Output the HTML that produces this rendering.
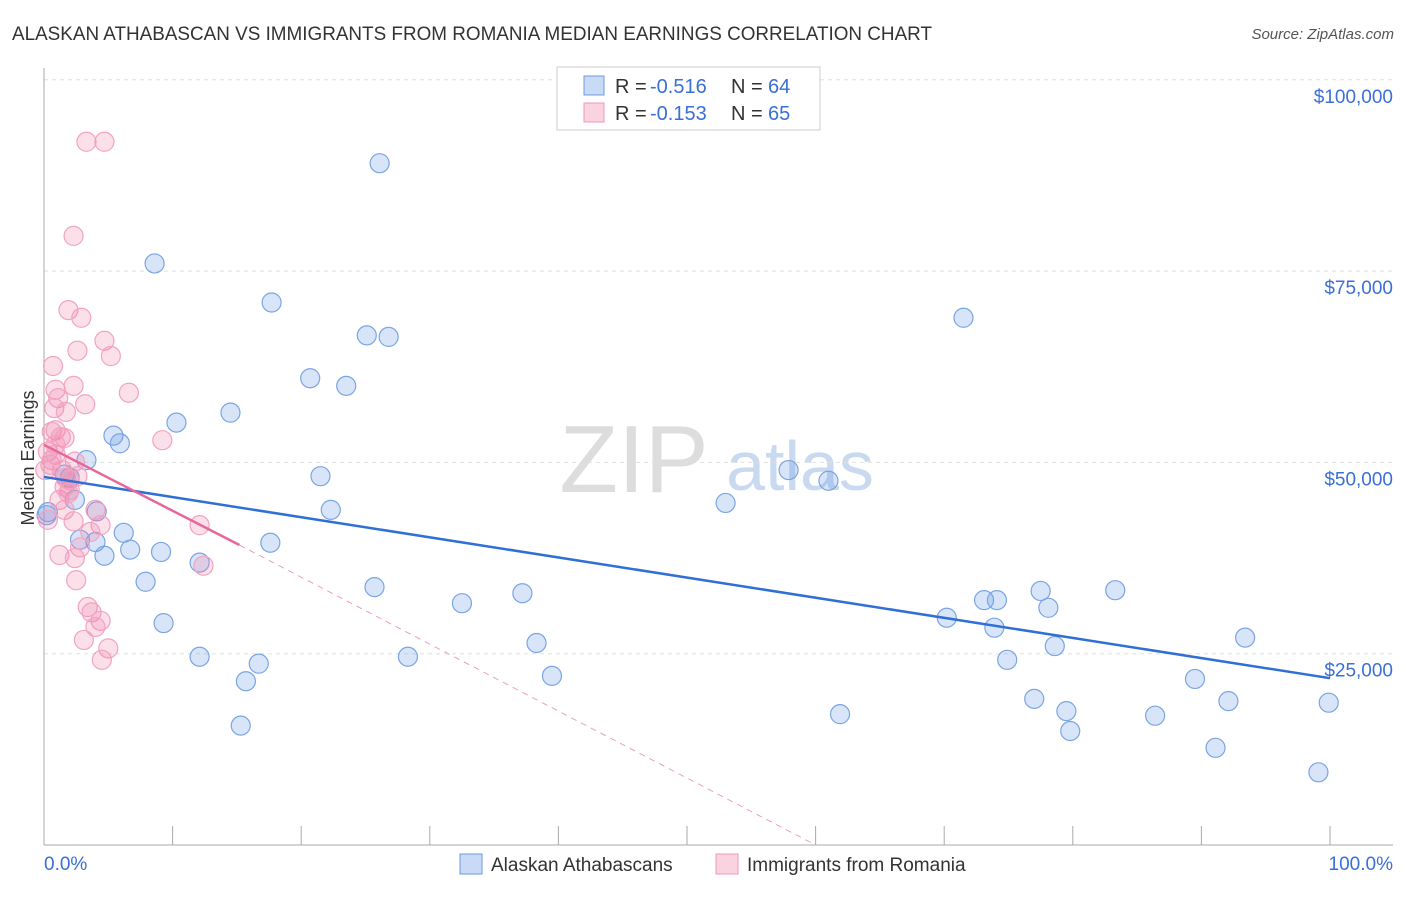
<!DOCTYPE html>
<html><head><meta charset="utf-8"><style>
body{margin:0;background:#fff;font-family:"Liberation Sans",sans-serif;}
svg text{font-family:"Liberation Sans",sans-serif;}
</style></head><body>
<svg id="chart" width="1406" height="892">
<text x="12" y="40" font-size="19" fill="#333" textLength="920" lengthAdjust="spacingAndGlyphs">ALASKAN ATHABASCAN VS IMMIGRANTS FROM ROMANIA MEDIAN EARNINGS CORRELATION CHART</text>
<text x="1394" y="39" font-size="15" fill="#555" font-style="italic" text-anchor="end">Source: ZipAtlas.com</text>
<text x="0" y="0" transform="translate(34,458) rotate(-90)" font-size="18" fill="#333" text-anchor="middle">Median Earnings</text>
<g><text x="634" y="492" font-size="96" fill="#ddd" font-family="Liberation Serif" text-anchor="middle">ZIP</text><text x="800" y="490" font-size="70" fill="#c9d9f0" text-anchor="middle">atlas</text></g>
<g id="grid"></g><g id="axes"></g><g id="marks"></g>
<g>
<rect x="557" y="67" width="263" height="63" fill="#fff" stroke="#ccc"/>
<rect x="584" y="76" width="20" height="19" fill="rgba(100,150,230,0.35)" stroke="#6a9be0"/>
<text x="615" y="93" font-size="20" fill="#333">R = </text><text x="650" y="93" font-size="20" fill="#3a6fd8">-0.516</text>
<text x="731" y="93" font-size="20" fill="#333">N = </text><text x="768" y="93" font-size="20" fill="#3a6fd8">64</text>
<rect x="584" y="103" width="20" height="19" fill="rgba(240,130,170,0.35)" stroke="#f09ab8"/>
<text x="615" y="120" font-size="20" fill="#333">R = </text><text x="650" y="120" font-size="20" fill="#3a6fd8">-0.153</text>
<text x="731" y="120" font-size="20" fill="#333">N = </text><text x="768" y="120" font-size="20" fill="#3a6fd8">65</text>
</g>
<g>
<rect x="460" y="854" width="22" height="20" fill="rgba(100,150,230,0.35)" stroke="#6a9be0"/>
<text x="491" y="871" font-size="19" fill="#333">Alaskan Athabascans</text>
<rect x="716" y="854" width="22" height="20" fill="rgba(240,130,170,0.35)" stroke="#f09ab8"/>
<text x="747" y="871" font-size="19" fill="#333">Immigrants from Romania</text>
</g>
<text x="44" y="870" font-size="19" fill="#3a6fd8">0.0%</text>
<text x="1393" y="870" font-size="19" fill="#3a6fd8" text-anchor="end">100.0%</text>
</svg>
<script>
const yTicks=[25,50,75,100];
const yTickLabels=["$25,000","$50,000","$75,000","$100,000"];
const xTicks=[0,10,20,30,40,50,60,70,80,90,100];
const blueX=[26.1,8.6,17.7,25.1,26.8,71.5,20.7,23.5,14.5,10.3,5.4,5.9,3.3,21.5,57.9,61.0,53.0,22.3,0.3,2.4,4.1,2.8,6.2,4.0,6.7,4.7,9.1,17.6,12.1,7.9,25.7,32.5,37.2,9.3,70.2,73.1,74.1,77.5,78.1,83.3,93.4,38.3,73.9,78.6,12.1,16.7,28.3,74.9,15.7,39.5,61.9,77.0,79.5,89.5,92.1,79.8,86.4,15.3,91.1,99.9,99.1,0.2,1.6,2.0];
const blueY=[89.1,76.0,70.9,66.6,66.4,68.9,61.0,60.0,56.5,55.2,53.5,52.5,50.3,48.2,49.0,47.6,44.7,43.8,43.5,45.1,43.6,39.9,40.8,39.6,38.6,37.8,38.3,39.5,36.9,34.4,33.7,31.6,32.9,29.0,29.7,32.0,32.0,33.2,31.0,33.3,27.1,26.4,28.4,26.0,24.6,23.7,24.6,24.2,21.4,22.1,17.1,19.1,17.5,21.7,18.8,14.9,16.9,15.6,12.7,18.6,9.5,43.1,48.4,48.0];
const pinkX=[3.3,4.7,2.3,1.9,2.9,2.6,4.7,5.2,0.7,0.9,2.3,6.6,1.1,0.8,3.2,0.9,0.6,1.3,1.6,9.2,0.3,0.9,2.4,0.5,1.4,1.7,2.6,2.0,1.2,1.6,4.0,2.3,4.4,3.6,2.8,1.2,2.4,2.5,12.1,12.4,3.4,3.7,4.4,4.0,3.1,5.0,4.5,0.6,1.6,2.0,1.9,0.9,1.7,0.1,0.3];
const pinkY=[91.9,91.9,79.6,69.9,68.9,64.6,65.9,63.9,62.6,59.5,60.0,59.1,58.4,57.1,57.6,54.2,54.0,53.3,53.2,52.9,51.4,51.0,50.1,49.7,49.0,48.0,48.2,46.4,45.1,43.8,43.8,42.3,41.8,40.9,38.9,37.9,37.5,34.6,41.8,36.5,31.1,30.4,29.3,28.5,26.8,25.7,24.2,50.3,46.8,47.7,46.0,52.3,56.6,49.0,42.5];
const blueTrend=[48.1,21.8];
const pinkTrend=[52.3,39.2,15.2,60.0];
const X=v=>44+v*12.86, Y=v=>845-v*7.652;
const NS="http://www.w3.org/2000/svg";
function mk(t,a,p){const e=document.createElementNS(NS,t);for(const k in a)e.setAttribute(k,a[k]);p.appendChild(e);return e;}
const grid=document.getElementById('grid'),axes=document.getElementById('axes'),marks=document.getElementById('marks');
yTicks.forEach((t,i)=>{
 const l=mk('line',{x1:44,y1:Y(t),x2:1393,y2:Y(t),stroke:'#e0e0e0','stroke-dasharray':'4,4'},grid);
 
 
 const tx=mk('text',{x:1393,y:Y(t)+23,'font-size':19,fill:'#3a6fd8','text-anchor':'end'},axes);
 tx.textContent=yTickLabels[i];
 
 
});
mk('line',{x1:44,y1:68,x2:44,y2:845,stroke:'#aaa'},axes);
mk('line',{x1:44,y1:845,x2:1393,y2:845,stroke:'#aaa'},axes);
xTicks.forEach(t=>{const l=mk('line',{x1:X(t),y1:826,x2:X(t),y2:845,stroke:'#aaa'},axes);
 
 });
function dots(xs,ys,fill,stroke,name){xs.forEach((x,i)=>{const c=mk('circle',{cx:X(x),cy:Y(ys[i]),r:9.5,fill:fill,stroke:stroke,'stroke-width':1.2},marks);
 
 });}
dots(blueX,blueY,'rgba(100,150,230,0.25)','#7aa5e3','blue-point');
dots(pinkX,pinkY,'rgba(240,130,170,0.25)','#f2a3c0','pink-point');
const bl=mk('line',{x1:X(0),y1:Y(blueTrend[0]),x2:X(100),y2:Y(blueTrend[1]),stroke:'#2f6fd6','stroke-width':2.5},marks);


const pl=mk('line',{x1:X(0),y1:Y(pinkTrend[0]),x2:X(pinkTrend[2]),y2:Y(pinkTrend[1]),stroke:'#e8679a','stroke-width':2.5},marks);


const pd=mk('line',{x1:X(pinkTrend[2]),y1:Y(pinkTrend[1]),x2:X(pinkTrend[3]),y2:Y(0),stroke:'#e8a0bc','stroke-width':1,'stroke-dasharray':'6,5'},marks);


</script>
</body></html>
